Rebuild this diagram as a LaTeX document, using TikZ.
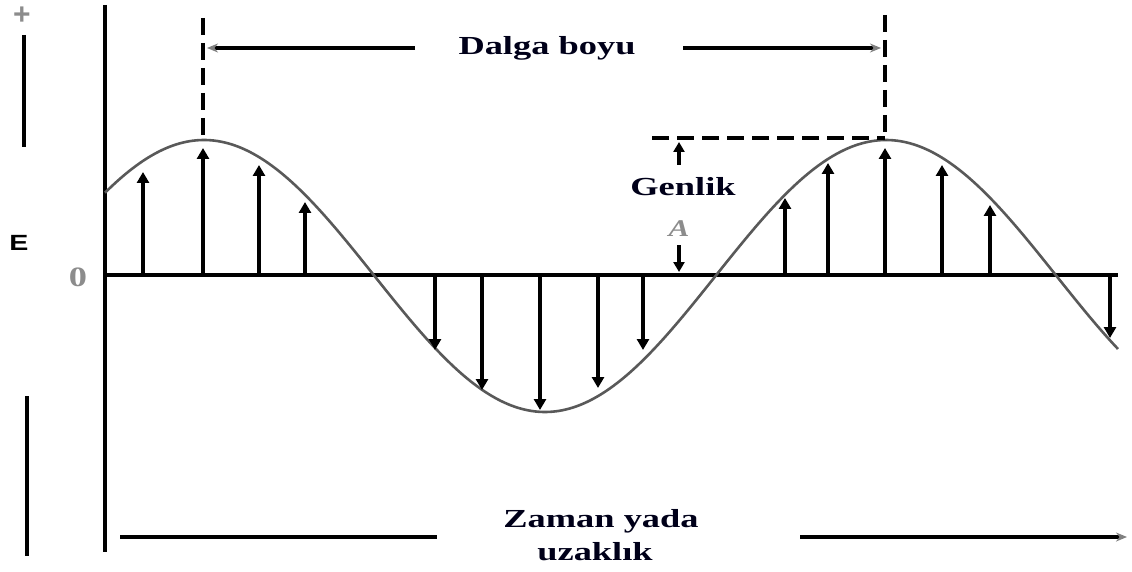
\documentclass[tikz,border=0pt]{standalone}
\usepackage{graphicx}
\usepackage{fontspec}
\setmainfont{Liberation Serif}
\newfontfamily\sansE{Liberation Sans}
\usetikzlibrary{arrows.meta}
\newcommand{\widetxt}[1]{\scalebox{1.4}[1]{#1}}
\begin{document}
\begin{tikzpicture}[x=1pt,y=-1pt,
  axisline/.style={line width=4pt},
  vec/.style={line width=3.6pt,-{Triangle[length=11pt,width=12pt]}},
  smallvec/.style={line width=3.4pt,-{Triangle[length=10pt,width=11pt]}},
  dimline/.style={line width=3.4pt},
  dimarrow/.style={line width=3.4pt,-{Stealth[length=11pt,width=9pt,color=gray]}},
  dashline/.style={line width=3.4pt,dash pattern=on 17pt off 8pt},
  wave/.style={line width=2.6pt,draw=black!65},
  lbl/.style={font=\fontsize{26}{28}\selectfont\bfseries,text=black!90!blue,inner sep=0pt},
  greytxt/.style={text=black!45,inner sep=0pt},
]
\useasboundingbox (0,0) rectangle (1132,572);

% axes
\coordinate (ytop) at (105,5);
\coordinate (ybot) at (105,552);
\coordinate (orig) at (105,275);
\coordinate (xend) at (1118,275);
\draw[axisline] (ytop) -- (ybot);
\draw[axisline] (orig) -- (xend);

% wave
\draw[wave] plot[domain=105:1118,samples=300] (\x,{276-136*cos((\x-204)/682*360)});

% field vectors
\foreach \px/\py in {143/172,203/148,259/165,305/202,
                     435/350,482/390,540/410,598/388,643/350,
                     785/198,828/163,885/148,942/165,990/205,
                     1110/338}{
  \coordinate (b\px) at (\px,275);
  \coordinate (t\px) at (\px,\py);
  \draw[vec] (b\px) -- (t\px);
}

% dashed guides
\coordinate (d1a) at (203,18);  \coordinate (d1b) at (203,140);
\coordinate (d2a) at (885,15);  \coordinate (d2b) at (885,140);
\coordinate (d3a) at (652,138); \coordinate (d3b) at (885,138);
\draw[dashline] (d1a) -- (d1b);
\draw[dashline] (d2a) -- (d2b);
\draw[dashline] (d3a) -- (d3b);

% wavelength
\node[lbl] (dalga) at (547,48) {\widetxt{Dalga boyu}};
\coordinate (wl1) at (415,48); \coordinate (wl1e) at (207,48);
\coordinate (wl2) at (683,48); \coordinate (wl2e) at (881,48);
\draw[dimarrow] (wl1) -- (wl1e);
\draw[dimarrow] (wl2) -- (wl2e);

% amplitude
\node[lbl] (genlik) at (683,187) {\widetxt{Genlik}};
\node[greytxt,font=\fontsize{24}{26}\selectfont\bfseries\itshape] (amp) at (679,229) {\scalebox{1.3}[1]{A}};
\coordinate (g1) at (679,165); \coordinate (g1e) at (679,142);
\coordinate (g2) at (679,245); \coordinate (g2e) at (679,272);
\draw[smallvec] (g1) -- (g1e);
\draw[smallvec] (g2) -- (g2e);

% time / distance
\node[lbl] (zaman) at (601,521) {\widetxt{Zaman yada}};
\node[lbl] (uzak) at (595,552) {\widetxt{uzaklık}};
\coordinate (z1) at (120,537); \coordinate (z1e) at (437,537);
\coordinate (z2) at (800,537); \coordinate (z2e) at (1127,537);
\draw[dimline] (z1) -- (z1e);
\draw[dimarrow] (z2) -- (z2e);

% left side E indicator
\node[greytxt,font=\sansE\fontsize{30}{32}\selectfont\bfseries] (plus) at (22,16) {+};
\coordinate (e1) at (24,35); \coordinate (e1e) at (24,147);
\draw[axisline] (e1) -- (e1e);
\node[inner sep=0pt,font=\sansE\fontsize{22}{24}\selectfont\bfseries] (E) at (19,243) {\scalebox{1.3}[1]{E}};
\coordinate (e2) at (27,396); \coordinate (e2e) at (27,556);
\draw[axisline] (e2) -- (e2e);
\node[greytxt,font=\fontsize{28}{30}\selectfont\bfseries] (zero) at (78,277) {\scalebox{1.3}[1]{0}};
\end{tikzpicture}
\end{document}
